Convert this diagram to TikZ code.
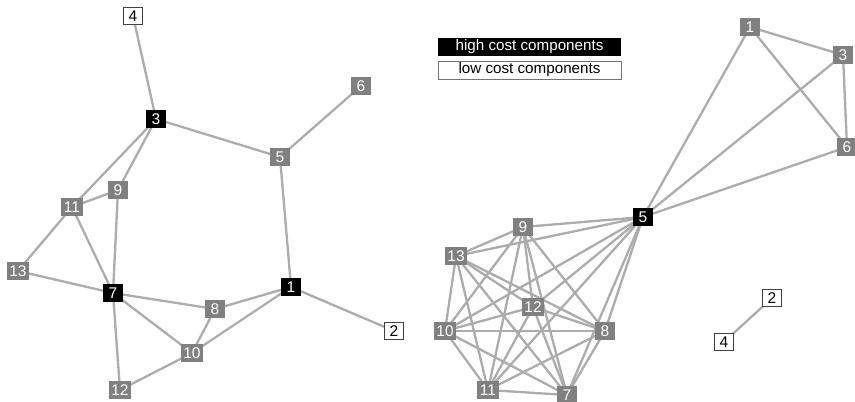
\documentclass[tikz,border=0pt]{standalone}
\usepackage{fontspec}
\setmainfont{Liberation Sans}
\usetikzlibrary{backgrounds}
\definecolor{edgec}{RGB}{172,172,172}
\definecolor{nodec}{RGB}{128,128,128}
\begin{document}
\begin{tikzpicture}[x=1pt,y=-1pt,
  nd/.style={fill=nodec,text=white,inner xsep=2.5pt,inner ysep=1pt,minimum width=19.5pt,minimum height=18pt,font=\fontsize{15.5}{15.5}\selectfont},
  hi/.style={nd,fill=black},
  lo/.style={nd,fill=white,text=black,draw=black!75,line width=0.9pt,minimum width=18.5pt,minimum height=17pt},
  ed/.style={draw=edgec,line width=2.3pt},
  leg/.style={minimum width=183pt,minimum height=18pt,inner sep=0pt,font=\fontsize{15.2}{15.2}\selectfont}]
\useasboundingbox (0,0) rectangle (855,402);
% left graph
\node[lo] (L4) at (133,16) {4};
\node[hi] (L3) at (156,119) {3};
\node[nd] (L6) at (361,86) {6};
\node[nd] (L5) at (280,157) {5};
\node[nd] (L9) at (118,190) {9};
\node[nd] (L11) at (72,207) {11};
\node[nd] (L13) at (18,271) {13};
\node[hi] (L7) at (113,293) {7};
\node[nd] (L8) at (215,309) {8};
\node[hi] (L1) at (291,287) {1};
\node[lo] (L2) at (394,331) {2};
\node[nd] (L10) at (192,353) {10};
\node[nd] (L12) at (120,390) {12};
% legend
\node[leg,fill=black,text=white] (H) at (529.5,47) {high cost components};
\node[leg,fill=white,text=black,draw=black!55,line width=0.8pt] (Lc) at (529.5,70) {low cost components};
% right graph
\node[nd] (R1) at (750,27) {1};
\node[nd] (R3) at (843,55) {3};
\node[nd] (R6) at (847,147) {6};
\node[hi] (R5) at (643,217) {5};
\node[nd] (R9) at (523,227) {9};
\node[nd] (R13) at (456,256) {13};
\node[nd] (R12) at (533,307) {12};
\node[nd] (R10) at (445,331) {10};
\node[nd] (R8) at (605,331) {8};
\node[nd] (R11) at (488,390) {11};
\node[nd] (R7) at (567,395) {7};
\node[lo] (R2) at (772,298) {2};
\node[lo] (R4) at (724,342) {4};
\begin{scope}[on background layer]
\foreach \a/\b in {L4/L3,L3/L5,L5/L6,L5/L1,L3/L11,L3/L9,L9/L11,L9/L7,L11/L7,L11/L13,L13/L7,L7/L8,L7/L10,L7/L12,L8/L10,L8/L1,L10/L1,L10/L12,L1/L2,
  R5/R1,R5/R3,R5/R6,R1/R3,R1/R6,R3/R6,R2/R4}
  \draw[ed] (\a.center) -- (\b.center);
\foreach \a [count=\i] in {R5,R9,R13,R12,R10,R8,R11,R7}{
  \foreach \b [count=\j] in {R5,R9,R13,R12,R10,R8,R11,R7}{
    \ifnum\i<\j \draw[ed] (\a.center) -- (\b.center);\fi
  }}
\end{scope}
\end{tikzpicture}
\end{document}
